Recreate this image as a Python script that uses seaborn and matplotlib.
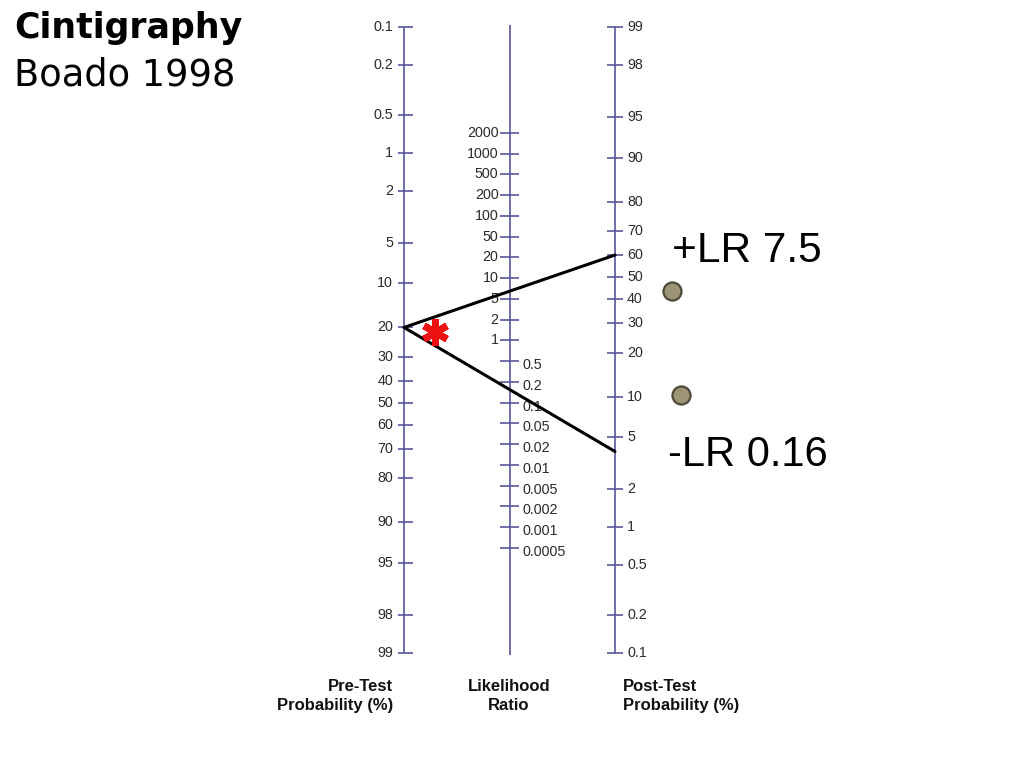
import numpy as np
import pandas as pd
import matplotlib
matplotlib.use("Agg")
import matplotlib.pyplot as plt
import seaborn as sns

# ---------------- data ----------------
title = "Cintigraphy"
subtitle = "Boado 1998"
pre_ticks = [0.1, 0.2, 0.5, 1, 2, 5, 10, 20, 30, 40, 50, 60, 70, 80, 90, 95, 98, 99]
post_ticks = [99, 98, 95, 90, 80, 70, 60, 50, 40, 30, 20, 10, 5, 2, 1, 0.5, 0.2, 0.1]
lr_upper = ["2000", "1000", "500", "200", "100", "50", "20", "10", "5", "2", "1"]
lr_lower = ["0.5", "0.2", "0.1", "0.05", "0.02", "0.01", "0.005", "0.002", "0.001", "0.0005"]
pre_test = 20        # pre-test probability (%)
post_pos = 60        # post-test probability after positive test (%)
post_neg = 3.9       # post-test probability after negative test (%)
lr_labels = ["+LR 7.5", "-LR 0.16"]
axis_titles = ["Pre-Test\nProbability (%)", "Likelihood\nRatio", "Post-Test\nProbability (%)"]

# ---------------- style ----------------
sns.set_theme(style="white")
plt.rcParams['font.family'] = ['Liberation Sans', 'DejaVu Sans']
AX_COL = "#55559c"
TXT_COL = "#2a2a2a"
TICK_FS = 10.3
W, H = 1024, 768

fig = plt.figure(figsize=(W / 100, H / 100), dpi=100)
fig.patch.set_facecolor("white")
ax = fig.add_axes([404 / W, 1 - 653 / H, 211 / W, 626 / H])


def logit(p):
    p = np.asarray(p, dtype=float) / 100.0
    return np.log(p / (1 - p))


y_top = float(logit(pre_ticks[0]))
y_bot = float(logit(pre_ticks[-1]))

dxp = 2 / 211.0                       # data x per pixel
dyp = (y_bot - y_top) / 626.0         # data y per pixel


def right_pos(p):
    return y_top + y_bot - logit(p)


# test lines (seaborn)
df = pd.DataFrame({
    "x": [0, 2, 0, 2],
    "y": [float(logit(pre_test)), float(right_pos(post_pos)),
          float(logit(pre_test)), float(right_pos(post_neg))],
    "test": ["pos", "pos", "neg", "neg"],
})
sns.lineplot(data=df, x="x", y="y", hue="test", palette=["black", "black"],
             linewidth=2.2, legend=False, ax=ax, sort=False, estimator=None, zorder=5)
for ln in ax.get_lines():
    ln.set_clip_on(False)
ax.set_xlim(0, 2)
ax.set_ylim(y_bot, y_top)
ax.axis("off")

# axis lines
for xv, ext in [(0, 0), (1, 2), (2, 0)]:
    ax.plot([xv, xv], [y_top - ext * dyp, y_bot + ext * dyp], color=AX_COL, lw=1.2,
            clip_on=False, solid_capstyle="butt", zorder=2)

# left axis
ly = logit(pre_ticks)
ax.hlines(ly, -6 * dxp, 9 * dxp, color=AX_COL, lw=1.2, clip_on=False, zorder=2)
for v, y in zip(pre_ticks, ly):
    ax.text(-11 * dxp, y, f"{v:g}", ha="right", va="center", fontsize=TICK_FS, color=TXT_COL)

# right axis
ry = right_pos(post_ticks)
ax.hlines(ry, 2 - 8 * dxp, 2 + 8 * dxp, color=AX_COL, lw=1.2, clip_on=False, zorder=2)
for v, y in zip(post_ticks, ry):
    ax.text(2 + 12 * dxp, y, f"{v:g}", ha="left", va="center", fontsize=TICK_FS, color=TXT_COL)

# middle (likelihood ratio) axis: evenly spaced ticks
n_mid = len(lr_upper) + len(lr_lower)
fr = np.linspace((133 - 27) / 626, (548 - 27) / 626, n_mid)
my = y_top + fr * (y_bot - y_top)
ax.hlines(my, 1 - 10 * dxp, 1 + 9 * dxp, color=AX_COL, lw=1.2, clip_on=False, zorder=2)
for lab, y in zip(lr_upper, my[:len(lr_upper)]):
    ax.text(1 - 11 * dxp, y, lab, ha="right", va="center", fontsize=TICK_FS, color=TXT_COL)
for lab, y in zip(lr_lower, my[len(lr_upper):]):
    ax.text(1 + 13 * dxp, y + 4 * dyp, lab, ha="left", va="center", fontsize=TICK_FS, color=TXT_COL)

# axis titles
kw = dict(va="center", fontsize=12, fontweight="bold", color="#111111", linespacing=1.35)
fig.text(393 / W, 1 - 696 / H, axis_titles[0], ha="right", multialignment="right", **kw)
fig.text(509 / W, 1 - 696 / H, axis_titles[1], ha="center", multialignment="center", **kw)
fig.text(623 / W, 1 - 696 / H, axis_titles[2], ha="left", multialignment="left", **kw)

# titles
fig.text(14 / W, 1 - 38 / H, title, ha="left", va="baseline", fontsize=25, fontweight="bold",
         color="black", family=["DejaVu Sans"])
fig.text(14 / W, 1 - 86 / H, subtitle, ha="left", va="baseline", fontsize=26.5, color="black",
         family=["DejaVu Sans"])

# LR annotations
fig.text(672 / W, 1 - 262 / H, lr_labels[0], ha="left", va="baseline", fontsize=30.5, color="black")
fig.text(668 / W, 1 - 466 / H, lr_labels[1], ha="left", va="baseline", fontsize=30, color="black")

# bullets
for cx, cy in [(672, 291), (681, 395)]:
    fig.add_artist(plt.Line2D([cx / W], [1 - cy / H], marker="o", markersize=13,
                              markerfacecolor="#9c9474", markeredgecolor="#4e4a3a",
                              markeredgewidth=1.6, transform=fig.transFigure))

# red asterisk
fig.add_artist(plt.Line2D([435 / W], [1 - 332 / H], marker=(6, 2, 0), markersize=19,
                          markeredgecolor="#ee1111", markeredgewidth=5,
                          transform=fig.transFigure))

fig.savefig("out.png", dpi=100, facecolor="white")
